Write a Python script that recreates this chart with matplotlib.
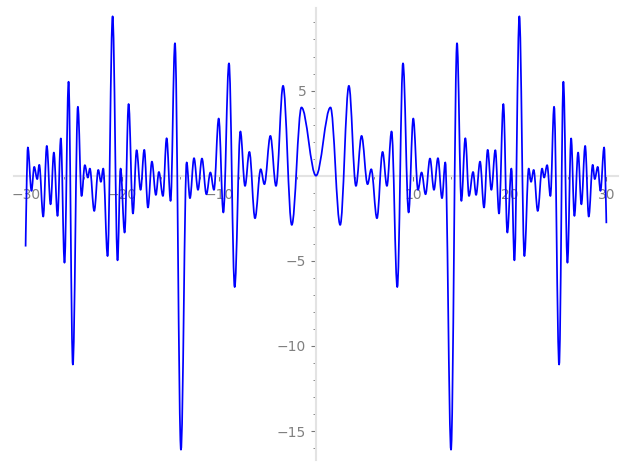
import matplotlib
matplotlib.use("Agg")
import matplotlib.pyplot as plt
from matplotlib.path import Path
from matplotlib.patches import PathPatch
from matplotlib.ticker import FixedLocator, AutoMinorLocator

# local extrema of the curve for x >= 0 (curve is even)
ext_x = [0.0, 1.50, 2.50, 3.40, 4.13, 4.71, 5.33, 5.71, 6.30, 6.88, 7.33, 7.81,
         8.40, 8.99, 9.57, 10.05, 10.54, 10.91, 11.32, 11.78, 12.19, 12.60,
         13.02, 13.36, 13.95, 14.57, 15.02, 15.43, 15.81, 16.23, 16.54, 16.95,
         17.36, 17.74, 18.12, 18.53, 18.91, 19.36, 19.77, 20.19, 20.50, 21.01,
         21.53, 21.98, 22.22, 22.49, 22.91, 23.36, 23.57, 23.88, 24.22, 24.60,
         25.12, 25.56, 25.98, 26.36, 26.70, 27.08, 27.42, 27.81, 28.18, 28.59,
         28.80, 29.11, 29.39, 29.77]
ext_y = [0.0, 4.01, -2.89, 5.28, -0.60, 2.34, -0.50, 0.38, -2.50, 1.40, -0.60, 2.60,
         -6.54, 6.60, -2.16, 3.36, -0.83, 0.19, -1.09, 1.01, -0.83, 1.03,
         -1.32, 0.78, -16.09, 7.78, -1.48, 2.20, -1.19, 0.22, -1.13, 0.83,
         -1.87, 1.52, -0.83, 1.50, -2.22, 4.21, -3.34, 0.42, -4.97, 9.36,
         -4.72, 0.42, -0.36, 0.34, -2.07, 0.42, -0.11, 0.62, -1.19, 4.05,
         -11.09, 5.52, -5.11, 2.19, -2.36, 1.36, -1.68, 1.75, -2.40, 0.64,
         -0.20, 0.52, -0.89, 1.66]
end_left = (-30.0, -4.16)
end_right = (30.0, -2.79)

xticks = [-30, -20, -10, 10, 20, 30]
yticks = [-15, -10, -5, 5]

# full curve: left end, mirrored left half, right half, right end
px = [end_left[0]] + [-v for v in ext_x[:0:-1]] + ext_x + [end_right[0]]
py = [end_left[1]] + ext_y[:0:-1] + ext_y + [end_right[1]]

# smooth path: horizontal tangents at each extremum
k = 0.36
verts = [(px[0], py[0])]
codes = [Path.MOVETO]
for i in range(1, len(px)):
    dx = px[i] - px[i - 1]
    k0 = 0.0 if i == 1 else k
    k1 = 0.0 if i == len(px) - 1 else k
    verts += [(px[i - 1] + k0 * dx, py[i - 1]), (px[i] - k1 * dx, py[i]), (px[i], py[i])]
    codes += [Path.CURVE4] * 3

fig = plt.figure(figsize=(6.27, 4.69), dpi=100)
ax = fig.add_axes([0.0223, 0.019, 0.9633, 0.964])
ax.add_patch(PathPatch(Path(verts, codes), fill=False, edgecolor='#0000ff',
                       lw=1.25, zorder=3, joinstyle='round'))
ax.set_xlim(-31.2, 31.2)
ax.set_ylim(-16.7, 9.85)

for s in ['top', 'right']:
    ax.spines[s].set_visible(False)
for s in ['left', 'bottom']:
    ax.spines[s].set_position(('data', 0))
    ax.spines[s].set_color('#e3e3e3')
    ax.spines[s].set_linewidth(1.5)

ax.xaxis.set_major_locator(FixedLocator(xticks))
ax.yaxis.set_major_locator(FixedLocator(yticks))
ax.xaxis.set_minor_locator(AutoMinorLocator(5))
ax.yaxis.set_minor_locator(AutoMinorLocator(5))
ax.tick_params(which='major', length=3.5, width=0.8, color='#777777',
               labelcolor='#808080', labelsize=10, direction='out')
ax.tick_params(which='minor', length=2.2, width=0.6, color='#777777', direction='out')
ax.tick_params(axis='x', which='major', pad=5)
ax.tick_params(axis='y', which='major', pad=3.5)

fig.savefig('out.png', dpi=100)
